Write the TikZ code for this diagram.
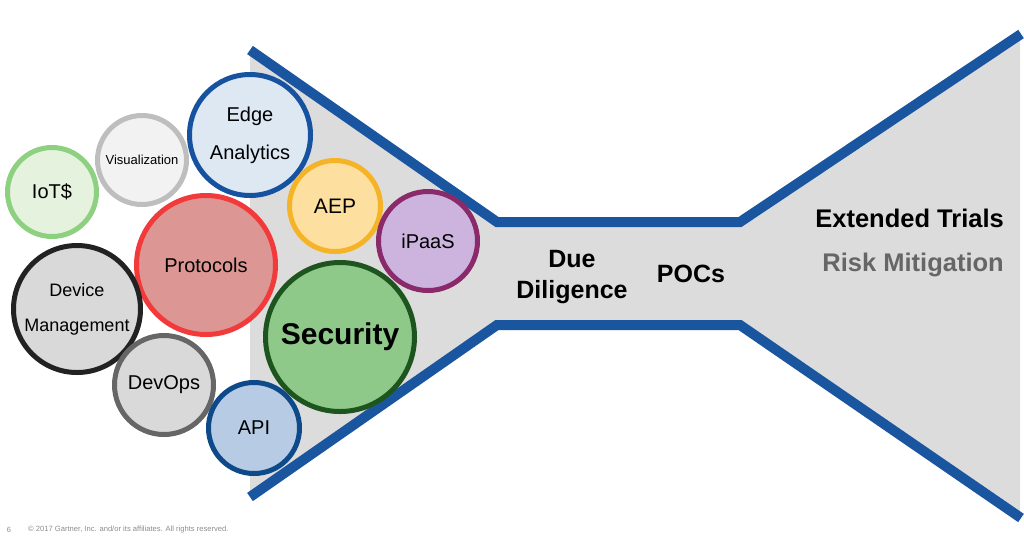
\documentclass[tikz,border=0pt]{standalone}
\usepackage{fontspec}
\setmainfont{Liberation Sans}
\begin{document}
\begin{tikzpicture}[x=1pt,y=-1pt,
  bubble/.style={circle, draw, line width=5pt, inner sep=0pt, align=center,
    font=\fontsize{20}{24}\selectfont},
  funnelline/.style={draw=funnelblue, line width=10pt, line join=miter},
  bigtxt/.style={font=\fontsize{25}{31}\selectfont\bfseries, align=center, inner sep=0pt}
]
\definecolor{funnelblue}{HTML}{1A56A0}
\definecolor{funnelgrey}{HTML}{DCDCDC}
\useasboundingbox (0,0) rectangle (1024,542);
% funnel body
\fill[funnelgrey] (250,50) -- (497,222) -- (740,222) -- (1020,35) -- (1020,520)
  -- (740,325) -- (497,325) -- (250,497) -- cycle;
\draw[funnelline] (250,50) -- (497,222) -- (740,222) -- (1021,34);
\draw[funnelline] (250,497) -- (497,325) -- (740,325) -- (1021,518);
% bubbles
\node[bubble, minimum size=89pt, draw={rgb,255:red,140;green,208;blue,128}, fill={rgb,255:red,228;green,242;blue,222}] (iot) at (52,192) {IoT\$};
\node[bubble, minimum size=89pt, draw={rgb,255:red,190;green,190;blue,190}, fill={rgb,255:red,242;green,242;blue,242}, font=\fontsize{13}{16}\selectfont] (vis) at (142,160) {Visualization};
\node[bubble, minimum size=121pt, draw={rgb,255:red,22;green,82;blue,160}, fill={rgb,255:red,221;green,232;blue,243}, font=\fontsize{20}{38}\selectfont] (edge) at (250,135) {Edge\\Analytics};
\node[bubble, minimum size=139pt, draw={rgb,255:red,242;green,58;blue,58}, fill={rgb,255:red,220;green,150;blue,148}] (prot) at (206,265) {Protocols};
\node[bubble, minimum size=91pt, draw={rgb,255:red,245;green,180;blue,40}, fill={rgb,255:red,253;green,224;blue,160}, font=\fontsize{21}{24}\selectfont] (aep) at (335,206) {AEP};
\node[bubble, minimum size=99pt, draw={rgb,255:red,139;green,42;blue,107}, fill={rgb,255:red,204;green,180;blue,222}] (ipaas) at (428,241) {iPaaS};
\node[bubble, minimum size=149pt, draw={rgb,255:red,30;green,85;blue,30}, fill={rgb,255:red,143;green,201;blue,138}, font=\fontsize{30}{34}\selectfont\bfseries] (sec) at (340,337) {Security};
\node[bubble, minimum size=127pt, draw={rgb,255:red,34;green,34;blue,34}, fill={rgb,255:red,217;green,217;blue,217}, font=\fontsize{18}{35}\selectfont] (dev) at (77,309) {Device\\Management};
\node[bubble, minimum size=99pt, draw={rgb,255:red,102;green,102;blue,102}, fill={rgb,255:red,217;green,217;blue,217}] (devops) at (164,385) {DevOps};
\node[bubble, minimum size=91pt, draw={rgb,255:red,14;green,74;blue,138}, fill={rgb,255:red,183;green,204;blue,228}] (api) at (254,428) {API};
% funnel labels
\node[bigtxt] (due) at (572,277) {Due\\Diligence};
\node[bigtxt] (pocs) at (691,274) {POCs};
\node[bigtxt, anchor=east, font=\fontsize{25.5}{31}\selectfont\bfseries] (ext) at (1004,218) {Extended Trials};
\node[bigtxt, anchor=east, text={rgb,255:red,102;green,102;blue,102}, font=\fontsize{25.5}{31}\selectfont\bfseries] (risk) at (1004,265) {Risk Mitigation};
% footer
\node[inner sep=0pt, text={rgb,255:red,140;green,140;blue,140}, font=\fontsize{7.5}{8}\selectfont] (pg) at (9,530) {6};
\node[inner sep=0pt, anchor=west, text={rgb,255:red,140;green,140;blue,140}, font=\fontsize{7.6}{8}\selectfont] (copy) at (28,530) {© 2017 Gartner, Inc. and/or its affiliates. All rights reserved.};
\end{tikzpicture}
\end{document}
